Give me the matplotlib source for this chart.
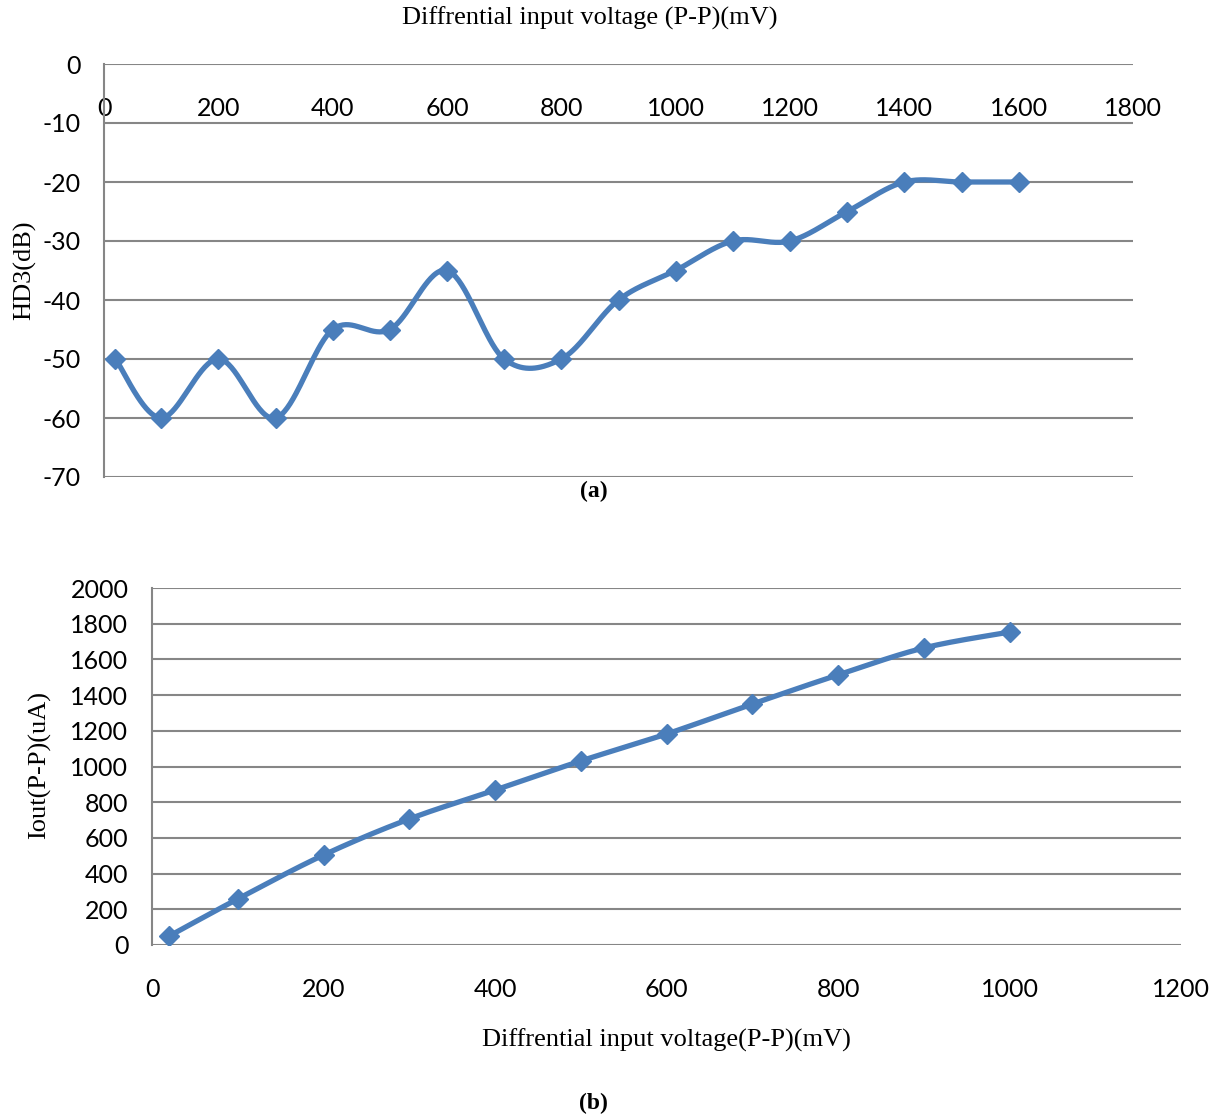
import matplotlib
matplotlib.use("Agg")
import matplotlib.pyplot as plt
import numpy as np

# (a) HD3 vs differential input voltage
vin_a = [20, 100, 200, 300, 400, 500, 600, 700, 800, 900, 1000, 1100, 1200, 1300, 1400, 1500, 1600]
hd3 = [-50, -60, -50, -60, -45, -45, -35, -50, -50, -40, -35, -30, -30, -25, -20, -20, -20]

# (b) Iout vs differential input voltage
vin_b = [20, 100, 200, 300, 400, 500, 600, 700, 800, 900, 1000]
iout = [50, 258, 504, 706, 868, 1031, 1182, 1350, 1513, 1664, 1753]

BLUE = "#4a7ebb"
GRID = "#868686"
TICK_FONT = "Lato"
SERIF = "Liberation Serif"
plt.rcParams["axes.unicode_minus"] = False


def smooth(x, y, n=40):
    # Excel-style smoothed line: cubic Bezier with Catmull-Rom control points
    p = np.column_stack([x, y]).astype(float)
    pts = np.vstack([p[0], p, p[-1]])
    out = []
    t = np.linspace(0, 1, n)[:, None]
    for i in range(1, len(pts) - 2):
        p0, p1, p2, p3 = pts[i - 1], pts[i], pts[i + 1], pts[i + 2]
        c1 = p1 + (p2 - p0) / 6
        c2 = p2 - (p3 - p1) / 6
        seg = ((1 - t) ** 3) * p1 + 3 * ((1 - t) ** 2) * t * c1 + 3 * (1 - t) * t ** 2 * c2 + t ** 3 * p2
        out.append(seg)
    seg = np.vstack(out)
    return seg[:, 0], seg[:, 1]


def style(ax, ylim, yticks, xlim, xticks):
    ax.set_xlim(*xlim)
    ax.set_ylim(*ylim)
    ax.set_yticks(yticks)
    ax.set_xticks(xticks)
    for s in ["top", "right", "bottom"]:
        ax.spines[s].set_visible(False)
    ax.spines["left"].set_color(GRID)
    ax.spines["left"].set_linewidth(1.5)
    ax.yaxis.grid(True, color=GRID, linewidth=1.5)
    ax.set_axisbelow(True)
    ax.tick_params(axis="y", length=0, pad=17, labelsize=18)
    for lab in ax.get_yticklabels() + ax.get_xticklabels():
        lab.set_fontfamily(TICK_FONT)


fig = plt.figure(figsize=(12.2, 11.17), dpi=100)

# ---- (a)
ax1 = fig.add_axes([104 / 1220, 1 - 477 / 1117, 1029 / 1220, 413 / 1117])
style(ax1, (-70, 0), range(-70, 1, 10), (0, 1800), range(0, 1801, 200))
ax1.tick_params(axis="x", top=True, labeltop=True, bottom=False, labelbottom=False,
                length=0, pad=-40, labelsize=18)
for lab in ax1.get_xticklabels():
    lab.set_fontfamily(TICK_FONT)
sx, sy = smooth(vin_a, hd3)
ax1.plot(sx, sy, color=BLUE, linewidth=3.8, zorder=3, solid_capstyle="round")
ax1.plot(vin_a, hd3, linestyle="none", marker="D", markersize=10.5, color=BLUE, zorder=4)
fig.text(25 / 1220, 1 - 270 / 1117, "HD3(dB)", rotation=90, ha="center", va="center",
         fontfamily=SERIF, fontsize=19)
fig.text(590 / 1220, 1 - 18 / 1117, "Diffrential input voltage (P-P)(mV)",
         ha="center", va="center", fontfamily=SERIF, fontsize=19)
fig.text(594 / 1220, 1 - 491 / 1117, "(a)", ha="center", va="center",
         fontfamily=SERIF, fontsize=17, fontweight="bold")

# ---- (b)
ax2 = fig.add_axes([152 / 1220, 1 - 945 / 1117, 1029 / 1220, 357 / 1117])
style(ax2, (0, 2000), range(0, 2001, 200), (0, 1200), range(0, 1201, 200))
ax2.tick_params(axis="x", length=0, pad=24, labelsize=18)
for lab in ax2.get_xticklabels():
    lab.set_fontfamily(TICK_FONT)
sx, sy = smooth(vin_b, iout)
ax2.plot(sx, sy, color=BLUE, linewidth=3.8, zorder=3, solid_capstyle="round")
ax2.plot(vin_b, iout, linestyle="none", marker="D", markersize=10.5, color=BLUE, zorder=4)
fig.text(40 / 1220, 1 - 765 / 1117, "Iout(P-P)(uA)", rotation=90, ha="center", va="center",
         fontfamily=SERIF, fontsize=19)
fig.text(666 / 1220, 1 - 1040 / 1117, "Diffrential input voltage(P-P)(mV)",
         ha="center", va="center", fontfamily=SERIF, fontsize=19)
fig.text(593 / 1220, 1 - 1103 / 1117, "(b)", ha="center", va="center",
         fontfamily=SERIF, fontsize=17, fontweight="bold")

fig.savefig("out.png", dpi=100, facecolor="white")
